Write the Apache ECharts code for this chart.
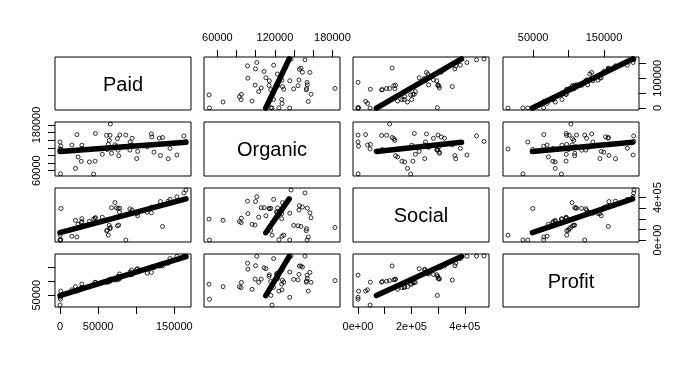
<!DOCTYPE html>
<html><head><meta charset="utf-8">
<script src="https://cdn.jsdelivr.net/npm/echarts@6/dist/echarts.min.js"></script>
<style>html,body{margin:0;padding:0;background:#fff}#c{width:697px;height:365px}</style>
</head><body><div id="c"></div><script>
const names = ['Paid', 'Organic', 'Social', 'Profit'];
const paid = [165349.2,162597.7,153441.51,144372.41,142107.34,131876.9,134615.46,130298.13,120542.52,123334.88,101913.08,100671.96,93863.75,91992.39,119943.24,114523.61,78013.11,94657.16,91749.16,86419.7,76253.86,78389.47,73994.56,67532.53,77044.01,64664.71,75328.87,72107.6,66051.52,65605.48,61994.48,61136.38,63408.86,55493.95,46426.07,46014.02,28663.76,44069.95,20229.59,38558.51,28754.33,27892.92,23640.93,15505.73,22177.74,1000.23,1315.46,0,542.05,0];
const organic = [136897.8,151377.59,101145.55,118671.85,91391.77,99814.71,147198.87,145530.06,148718.95,108679.17,110594.11,91790.61,127320.38,135495.07,156547.42,122616.84,121597.55,145077.58,114175.79,153514.11,113867.3,153773.43,122782.75,105751.03,99281.34,139553.16,144135.98,127864.55,182645.56,153032.06,115641.28,152701.92,129219.61,103057.49,157693.92,85047.44,127056.21,51283.14,65947.93,82982.09,118546.05,84710.77,96189.63,127382.3,154806.14,124153.04,115816.21,135426.92,51743.15,116983.8];
const social = [471784.1,443898.53,407934.54,383199.62,366168.42,362861.36,127716.82,323876.68,311613.29,304981.62,229160.95,249744.55,249839.44,252664.93,256512.92,261776.23,264346.06,282574.31,294919.57,0,298664.47,299737.29,303319.26,304768.73,140574.81,137962.62,134050.07,353183.81,118148.2,107138.38,91131.24,88218.23,46085.25,214634.81,210797.67,205517.64,201126.82,197029.42,185265.1,174999.3,172795.67,164470.71,148001.11,35534.17,28334.72,1903.93,297114.46,0,0,45173.06];
const profit = [192261.83,191792.06,191050.39,182901.99,166187.94,156991.12,156122.51,155752.6,152211.77,149759.96,146121.95,144259.4,141585.52,134307.35,132602.65,129917.04,126992.93,125370.37,124266.9,122776.86,118474.03,111313.02,110352.25,108733.99,108552.04,107404.34,105733.54,105008.31,103282.38,101004.64,99937.59,97483.56,97427.84,96778.92,96712.8,96479.51,90708.19,89949.14,81229.06,81005.76,78239.91,77798.83,71498.49,69758.98,65200.33,64926.08,49490.75,42559.73,35673.41,14681.4];
// trend band end points (values at the low and high end of Paid)
const fitLow = [0, 110457, 68785, 49032];
const fitHigh = [165349, 134879, 387811, 190290];
// tick positions per variable
const ticks = [
  [0, 50000, 100000, 150000],
  [60000, 80000, 100000, 120000, 140000, 160000, 180000],
  [0, 100000, 200000, 300000, 400000],
  [50000, 100000, 150000]
];
// labelled ticks, per outer axis
const labPaidBottom = [0, 50000, 150000];
const labPaidRight = [0, 100000];
const labOrganicTop = [60000, 120000, 180000];
const labOrganicLeft = [60000, 180000];
const labSocialBottom = [0, 200000, 400000];
const labSocialRight = [0, 400000];
const labProfitTop = [50000, 150000];
const labProfitLeft = [50000];

const vars = [paid, organic, social, profit];
const ranges = vars.map(v => {
  const lo = Math.min(...v), hi = Math.max(...v), e = (hi - lo) * 0.04;
  return [lo - e, hi + e];
});
const fmt = k => v => k === 2 ? (v === 0 ? '0e+00' : (v / 1e5) + 'e+05') : String(v);

const colLeft = [55, 204, 353, 503], colW = 136;
const rowTop = [57, 122, 188, 254], rowH = [53, 54, 54, 53];
const FONT = 'Liberation Sans, Arial, sans-serif';

const grid = [], xAxis = [], yAxis = [], series = [], graphic = [];
for (let i = 0; i < 4; i++) {
  for (let j = 0; j < 4; j++) {
    const g = i * 4 + j;
    grid.push({left: colLeft[j], top: rowTop[i], width: colW, height: rowH[i], show: true,
      borderColor: '#000', borderWidth: 1, backgroundColor: 'transparent'});
    const showX = (i === 0 && j % 2 === 1) || (i === 3 && j % 2 === 0);
    const showY = (j === 0 && i % 2 === 1) || (j === 3 && i % 2 === 0);
    let xLab = [];
    if (showX) xLab = j === 0 ? labPaidBottom : j === 1 ? labOrganicTop : j === 2 ? labSocialBottom : labProfitTop;
    let yLab = [];
    if (showY) yLab = i === 0 ? labPaidRight : i === 1 ? labOrganicLeft : i === 2 ? labSocialRight : labProfitLeft;
    xAxis.push({type: 'value', gridIndex: g, min: ranges[j][0], max: ranges[j][1],
      position: i === 0 ? 'top' : 'bottom',
      axisLine: {show: false, onZero: false}, splitLine: {show: false},
      axisTick: {show: showX, customValues: ticks[j], length: 7, lineStyle: {color: '#000', width: 1}},
      axisLabel: {show: showX, customValues: xLab, formatter: fmt(j), color: '#000', fontSize: 11,
        fontFamily: FONT, margin: 14, hideOverlap: false}
    });
    yAxis.push({type: 'value', gridIndex: g, min: ranges[i][0], max: ranges[i][1],
      position: j === 0 ? 'left' : 'right',
      axisLine: {show: false, onZero: false}, splitLine: {show: false},
      axisTick: {show: showY, customValues: ticks[i], length: 7, lineStyle: {color: '#000', width: 1}},
      axisLabel: {show: showY, customValues: yLab, formatter: fmt(i), color: '#000', fontSize: 11,
        fontFamily: FONT, margin: 13, rotate: 90, hideOverlap: false}
    });
    if (i === j) {
      graphic.push({type: 'text', x: colLeft[j] + colW / 2, y: rowTop[i] + rowH[i] / 2 + 1.5,
        style: {text: names[i], font: '20px ' + FONT, fill: '#000', align: 'center', verticalAlign: 'middle'}});
      continue;
    }
    series.push({type: 'scatter', xAxisIndex: g, yAxisIndex: g,
      data: vars[j].map((x, k) => [x, vars[i][k]]),
      symbol: 'circle', symbolSize: 4,
      itemStyle: {color: 'rgba(0,0,0,0)', borderColor: '#000', borderWidth: 1}, silent: true});
    series.push({type: 'line', xAxisIndex: g, yAxisIndex: g,
      data: [[fitLow[j], fitLow[i]], [fitHigh[j], fitHigh[i]]],
      showSymbol: false, symbol: 'none', lineStyle: {color: '#000', width: 5.5, cap: 'round'}, silent: true});
  }
}
const chart = echarts.init(document.getElementById('c'), null, {renderer: 'canvas'});
chart.setOption({animation: false, backgroundColor: '#fff', grid, xAxis, yAxis, series, graphic});
</script></body></html>
